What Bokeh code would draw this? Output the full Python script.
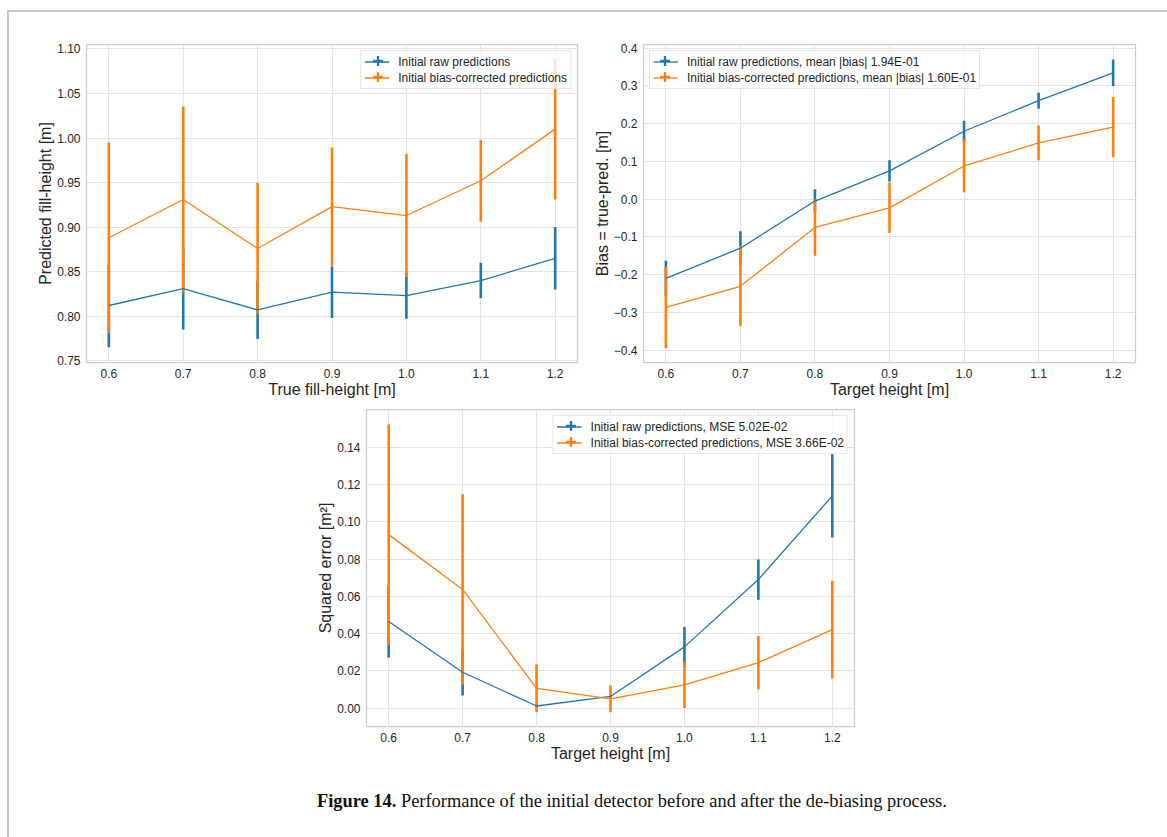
import numpy as np
from bokeh.plotting import figure
from bokeh.models import (Legend, LegendItem, FixedTicker, CustomJSTickFormatter,
                          Range1d, Div, Spacer)
from bokeh.layouts import column, row
from bokeh.embed import file_html
from bokeh.resources import INLINE

# ---------------- data ----------------
heights = [0.6, 0.7, 0.8, 0.9, 1.0, 1.1, 1.2]
x_ticks = [0.6, 0.7, 0.8, 0.9, 1.0, 1.1, 1.2]

# panel 1: predicted fill-height
pred_raw_mean = [0.812, 0.831, 0.807, 0.827, 0.823, 0.840, 0.865]
pred_raw_err = [0.047, 0.046, 0.0325, 0.029, 0.026, 0.020, 0.035]
pred_bc_mean = [0.888, 0.931, 0.876, 0.923, 0.913, 0.952, 1.010]
pred_bc_err = [0.107, 0.1045, 0.0735, 0.0665, 0.069, 0.046, 0.079]
pred_yticks = [0.75, 0.80, 0.85, 0.90, 0.95, 1.00, 1.05, 1.10]

# panel 2: bias
bias_raw_mean = [-0.210, -0.130, -0.005, 0.075, 0.180, 0.261, 0.335]
bias_raw_err = [0.047, 0.045, 0.031, 0.028, 0.028, 0.021, 0.035]
bias_bc_mean = [-0.287, -0.231, -0.075, -0.023, 0.088, 0.149, 0.191]
bias_bc_err = [0.108, 0.106, 0.075, 0.067, 0.070, 0.046, 0.080]
bias_yticks = [-0.4, -0.3, -0.2, -0.1, 0.0, 0.1, 0.2, 0.3, 0.4]

# panel 3: squared error
sq_raw_mean = [0.0465, 0.0193, 0.0012, 0.0063, 0.0329, 0.0690, 0.1139]
sq_raw_err = [0.0193, 0.0125, 0.0010, 0.0010, 0.0106, 0.0108, 0.0223]
sq_bc_mean = [0.0931, 0.0637, 0.0107, 0.0050, 0.0125, 0.0245, 0.0422]
sq_bc_err = [0.0590, 0.0510, 0.0128, 0.0072, 0.0124, 0.0143, 0.0262]
sq_yticks = [0.00, 0.02, 0.04, 0.06, 0.08, 0.10, 0.12, 0.14]

labels1 = ["Initial raw predictions", "Initial bias-corrected predictions"]
labels2 = ["Initial raw predictions, mean |bias| 1.94E-01",
           "Initial bias-corrected predictions, mean |bias| 1.60E-01"]
labels3 = ["Initial raw predictions, MSE 5.02E-02",
           "Initial bias-corrected predictions, MSE 3.66E-02"]

caption_bold = "Figure 14."
caption_text = "Performance of the initial detector before and after the de-biasing process."

# ---------------- styling ----------------
BLUE = "#1f77b4"
ORANGE = "#ff7f0e"
TXT = "#262626"
FONT = "Liberation Sans"
LEG_FS = 12  # legend font size, px

# Arial / Liberation Sans advance widths (per 1000 em) to size the legend keys
_AW = {" ": 278, ",": 278, "-": 333, ".": 278, "|": 260, "0": 556, "1": 556,
       "2": 556, "3": 556, "4": 556, "5": 556, "6": 556, "7": 556, "8": 556,
       "9": 556, "E": 667, "I": 278, "M": 833, "S": 667, "a": 556, "b": 556,
       "c": 500, "d": 556, "e": 556, "i": 222, "l": 222, "m": 833, "n": 556,
       "o": 556, "p": 556, "r": 333, "s": 500, "t": 278, "w": 722}


def text_w(s):
    return sum(_AW.get(ch, 556) for ch in s) * LEG_FS / 1000.0


def fmt(d):
    return CustomJSTickFormatter(
        code="return tick.toFixed(%d).replace('-', '\u2212');" % d)


def make_fig(w, h, bl, br, bt, bb, yr, yticks, ydig, xlabel, ylabel,
             series, labels, loc):
    p = figure(width=w, height=h, output_backend="svg", toolbar_location=None,
               x_range=Range1d(0.57, 1.23), y_range=Range1d(*yr),
               min_border_left=bl, min_border_right=br,
               min_border_top=bt, min_border_bottom=bb)
    fw, fh = w - bl - br, h - bt - bb
    p.background_fill_color = "white"
    p.border_fill_color = "white"
    p.outline_line_color = "#cccccc"
    p.outline_line_width = 1.25
    for ax in (p.xaxis[0], p.yaxis[0]):
        ax.axis_line_color = None
        ax.major_tick_line_color = None
        ax.minor_tick_line_color = None
        ax.major_label_text_font = FONT
        ax.major_label_text_font_size = "12px"
        ax.major_label_text_color = TXT
        ax.axis_label_text_font = FONT
        ax.axis_label_text_font_size = "16px"
        ax.axis_label_text_font_style = "normal"
        ax.axis_label_text_color = TXT
        ax.major_label_standoff = 0
    p.xaxis.axis_label_standoff = 0
    p.yaxis.axis_label_standoff = 0
    p.xaxis.ticker = FixedTicker(ticks=x_ticks)
    p.xaxis.formatter = fmt(1)
    p.yaxis.ticker = FixedTicker(ticks=yticks)
    p.yaxis.formatter = fmt(ydig)
    p.xaxis.axis_label = xlabel
    p.yaxis.axis_label = ylabel
    p.grid.grid_line_color = "#e3e3e3"
    p.grid.grid_line_width = 1

    colors = [BLUE, ORANGE]
    # error bars first (below the lines)
    for (m, e), c in zip(series, colors):
        lo = [a - b for a, b in zip(m, e)]
        hi = [a + b for a, b in zip(m, e)]
        p.segment(x0=heights, y0=lo, x1=heights, y1=hi, line_color=c,
                  line_width=2.6)
    items, marks = [], []
    for (m, e), c, lab in zip(series, colors, labels):
        lr = p.line(heights, m, line_color=c, line_width=1.3)
        items.append(LegendItem(label=lab, renderers=[lr]))
        # zero-size markers: invisible on the plot, used as the legend's
        # error-bar key
        mk = p.scatter(heights, m, marker="cross", size=0,
                       line_color=c, line_width=2.3)
        marks.append(mk)
    leg = Legend(items=items, location=loc)
    leg.margin = 6
    leg.padding = 3
    leg.spacing = 1
    leg.glyph_width = 25
    leg.glyph_height = 15
    leg.label_height = 15
    leg.label_standoff = 9
    leg.label_text_font = FONT
    leg.label_text_font_size = "%dpx" % LEG_FS
    leg.label_text_color = TXT
    leg.border_line_color = "#cccccc"
    leg.border_line_width = 1
    leg.background_fill_alpha = 0.8
    p.add_layout(leg)

    # vertical error-bar keys, overlaid on the legend's line keys
    lmax = max(text_w(s) for s in labels)
    if loc == "top_left":
        vx = 9
    else:
        vx = fw - 43 - lmax
    for k, mk in enumerate(marks):
        vy = fh - 29 - 16 * k
        kb = Legend(items=[LegendItem(label="", renderers=[mk])],
                    location=(vx, vy))
        kb.margin = 0
        kb.padding = 0
        kb.spacing = 0
        kb.glyph_width = 25
        kb.glyph_height = 25
        kb.label_height = 10
        kb.label_standoff = 0
        kb.label_text_alpha = 0
        kb.border_line_color = None
        kb.background_fill_color = None
        p.add_layout(kb)
    return p


p1 = make_fig(578, 394, 77, 10, 32, 44, (0.748, 1.105), pred_yticks, 2,
              "True fill-height [m]", "Predicted fill-height [m]",
              [(pred_raw_mean, pred_raw_err), (pred_bc_mean, pred_bc_err)],
              labels1, "top_right")
p2 = make_fig(576, 394, 56, 28, 32, 44, (-0.433, 0.41), bias_yticks, 1,
              "Target height [m]", "Bias = true-pred. [m]",
              [(bias_raw_mean, bias_raw_err), (bias_bc_mean, bias_bc_err)],
              labels2, "top_left")
p3 = make_fig(574, 364, 76, 10, 3, 44, (-0.0098, 0.1602), sq_yticks, 2,
              "Target height [m]", "Squared error [m\u00b2]",
              [(sq_raw_mean, sq_raw_err), (sq_bc_mean, sq_bc_err)],
              labels3, "top_right")

cap = Div(text='<div style="text-align:left;padding-left:303px;'
               'font-family:\'Liberation Serif\';font-size:18.4px;color:#111;'
               'padding-top:13px;white-space:nowrap">'
               '<b>%s</b> %s</div>' % (caption_bold, caption_text),
          width=1154, height=64)

layout = column(row(p1, p2), row(Spacer(width=281, height=364), p3), cap,
                styles={"margin-top": "10px", "margin-left": "7px",
                        "border-top": "2px solid #c8c8c8",
                        "border-left": "2px solid #c8c8c8",
                        "border-right": "2px solid #c8c8c8"})

open("out.html", "w").write(file_html(layout, INLINE))
